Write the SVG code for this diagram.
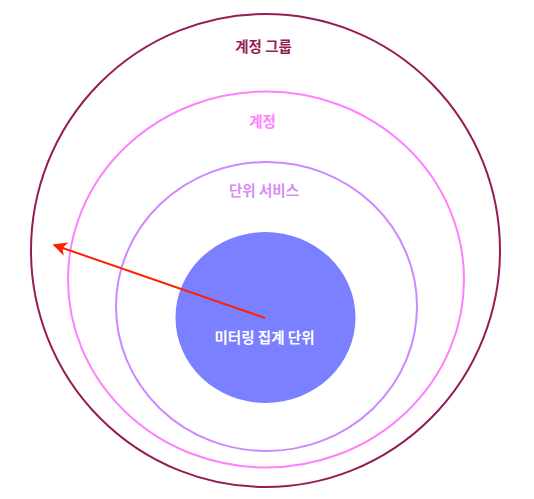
<svg xmlns="http://www.w3.org/2000/svg" width="534" height="499" viewBox="0 0 534 499">
<defs>
<style>
.lbl{font-family:"Noto Sans CJK KR","Noto Sans",sans-serif;font-size:14.5px;font-weight:bold;text-anchor:middle;dominant-baseline:central}
</style>
<marker id="ah" viewBox="0 0 10 10" refX="9" refY="5" markerWidth="7" markerHeight="7" markerUnits="strokeWidth" orient="auto">
<path d="M0,0 L10,5 L0,10 L2.5,5 Z" fill="#ff2200"/>
</marker>
</defs>
<rect width="534" height="499" fill="#ffffff"/>
<g id="account-group">
<ellipse cx="265.5" cy="250.5" rx="234.5" ry="236.5" fill="none" stroke="#961c58" stroke-width="2"/>
<text class="lbl" x="263.5" y="45.5" fill="#961c58">계정 그룹</text>
</g>
<g id="account">
<ellipse cx="266" cy="279.5" rx="198" ry="188" fill="none" stroke="#ff80ff" stroke-width="2"/>
<text class="lbl" x="262.5" y="120" fill="#ff80ff">계정</text>
</g>
<g id="unit-service">
<ellipse cx="266.5" cy="306.5" rx="150.5" ry="144.5" fill="none" stroke="#cc88ff" stroke-width="2"/>
<text class="lbl" x="264" y="189.5" fill="#d98cf5">단위 서비스</text>
</g>
<g id="metering-unit">
<ellipse cx="265.5" cy="317.5" rx="90" ry="85.5" fill="#7a80ff"/>
<text class="lbl" x="264.5" y="336" fill="#ffffff">미터링 집계 단위</text>
</g>
<g id="connectors">
<line x1="265" y1="318" x2="54" y2="245" stroke="#ff2200" stroke-width="2" marker-end="url(#ah)"/>
</g>
</svg>
